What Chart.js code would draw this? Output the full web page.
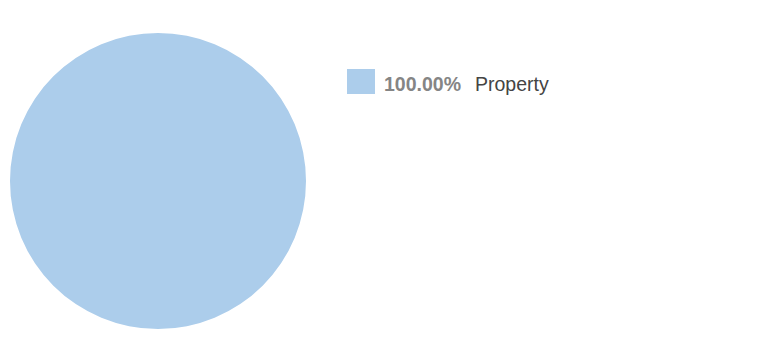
<!DOCTYPE html>
<html>
<head>
<meta charset="utf-8">
<script src="https://cdn.jsdelivr.net/npm/chart.js@4"></script>
<style>
  html, body { margin: 0; padding: 0; background: #fff; }
  body { width: 783px; height: 357px; position: relative; overflow: hidden; font-family: "Liberation Sans", Arial, Helvetica, sans-serif; }
  #pieBox { position: absolute; left: 10px; top: 33px; width: 296px; height: 296px; }
  #leyenda { position: absolute; left: 347px; top: 69px; }
  .item { display: flex; align-items: center; height: 25px; }
  .cuadro { width: 28px; height: 25px; margin-right: 9px; }
  .pct { font-weight: bold; color: #858585; font-size: 19.5px; margin-right: 14px; position: relative; top: 3px; }
  .nombre { color: #444; font-size: 19.5px; position: relative; top: 3px; }
</style>
</head>
<body>
<div id="pieBox"><canvas id="graficoTorta"></canvas></div>
<div id="leyenda"></div>
<script>
const categorias = ["Property"];
const valores = [100];
const colores = ["#accdeb"];

const total = valores.reduce((a, b) => a + b, 0);

new Chart(document.getElementById("graficoTorta").getContext("2d"), {
  type: "pie",
  data: {
    labels: categorias,
    datasets: [{
      data: valores,
      backgroundColor: colores,
      borderWidth: 0
    }]
  },
  options: {
    responsive: true,
    maintainAspectRatio: false,
    animation: false,
    layout: { padding: 0 },
    plugins: {
      legend: { display: false },
      tooltip: { enabled: false }
    }
  }
});

document.getElementById("leyenda").innerHTML = categorias.map((c, i) => `
  <div class="item">
    <div class="cuadro" style="background:${colores[i]}"></div>
    <span class="pct">${(valores[i] / total * 100).toFixed(2)}%</span>
    <span class="nombre">${c}</span>
  </div>
`).join("");
</script>
</body>
</html>
